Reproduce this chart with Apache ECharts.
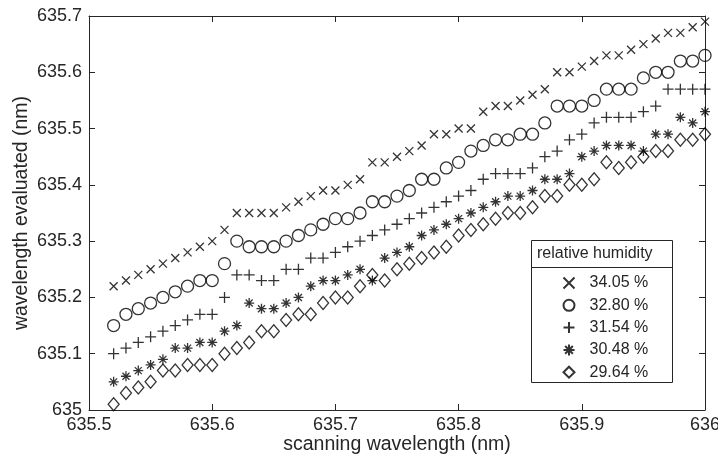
<!DOCTYPE html>
<html>
<head>
<meta charset="utf-8">
<script src="https://cdn.jsdelivr.net/npm/echarts@6/dist/echarts.min.js"></script>
<style>
html, body { margin: 0; padding: 0; background: #fff; }
#main { width: 718px; height: 466px; }
</style>
</head>
<body>
<div id="main"></div>
<script>
// scanning wavelength (nm)
var scanWl = [635.52, 635.53, 635.54, 635.55, 635.56, 635.57, 635.58, 635.59, 635.60, 635.61,
    635.62, 635.63, 635.64, 635.65, 635.66, 635.67, 635.68, 635.69, 635.70, 635.71,
    635.72, 635.73, 635.74, 635.75, 635.76, 635.77, 635.78, 635.79, 635.80, 635.81,
    635.82, 635.83, 635.84, 635.85, 635.86, 635.87, 635.88, 635.89, 635.90, 635.91,
    635.92, 635.93, 635.94, 635.95, 635.96, 635.97, 635.98, 635.99, 636.00];

// wavelength evaluated (nm), one list per relative humidity
var rh3405 = [635.22, 635.23, 635.24, 635.25, 635.26, 635.27, 635.28, 635.29, 635.30, 635.32,
    635.35, 635.35, 635.35, 635.35, 635.36, 635.37, 635.38, 635.39, 635.39, 635.40,
    635.41, 635.44, 635.44, 635.45, 635.46, 635.47, 635.49, 635.49, 635.50, 635.50,
    635.53, 635.54, 635.54, 635.55, 635.56, 635.57, 635.60, 635.60, 635.61, 635.62,
    635.63, 635.63, 635.64, 635.65, 635.66, 635.67, 635.67, 635.68, 635.69];
var rh3280 = [635.15, 635.17, 635.18, 635.19, 635.20, 635.21, 635.22, 635.23, 635.23, 635.26,
    635.30, 635.29, 635.29, 635.29, 635.30, 635.31, 635.32, 635.33, 635.34, 635.34,
    635.35, 635.37, 635.37, 635.38, 635.39, 635.41, 635.41, 635.43, 635.44, 635.46,
    635.47, 635.48, 635.48, 635.49, 635.49, 635.51, 635.54, 635.54, 635.54, 635.55,
    635.57, 635.57, 635.57, 635.59, 635.60, 635.60, 635.62, 635.62, 635.63];
var rh3154 = [635.10, 635.11, 635.12, 635.13, 635.14, 635.15, 635.16, 635.17, 635.17, 635.20,
    635.24, 635.24, 635.23, 635.23, 635.25, 635.25, 635.27, 635.27, 635.28, 635.29,
    635.30, 635.31, 635.32, 635.33, 635.34, 635.35, 635.36, 635.37, 635.38, 635.39,
    635.41, 635.42, 635.42, 635.42, 635.43, 635.45, 635.46, 635.48, 635.49, 635.51,
    635.52, 635.52, 635.52, 635.53, 635.54, 635.57, 635.57, 635.57, 635.57];
var rh3048 = [635.05, 635.06, 635.07, 635.08, 635.09, 635.11, 635.11, 635.12, 635.12, 635.14,
    635.15, 635.19, 635.18, 635.18, 635.19, 635.20, 635.22, 635.23, 635.23, 635.24,
    635.25, 635.23, 635.27, 635.28, 635.29, 635.31, 635.32, 635.33, 635.34, 635.35,
    635.36, 635.37, 635.38, 635.38, 635.39, 635.41, 635.41, 635.42, 635.45, 635.46,
    635.47, 635.47, 635.47, 635.46, 635.49, 635.49, 635.52, 635.51, 635.53];
var rh2964 = [635.01, 635.03, 635.04, 635.05, 635.07, 635.07, 635.08, 635.08, 635.08, 635.10,
    635.11, 635.12, 635.14, 635.14, 635.16, 635.17, 635.17, 635.19, 635.20, 635.20,
    635.22, 635.24, 635.23, 635.25, 635.26, 635.27, 635.28, 635.29, 635.31, 635.32,
    635.33, 635.34, 635.35, 635.35, 635.36, 635.38, 635.38, 635.40, 635.40, 635.41,
    635.44, 635.43, 635.44, 635.45, 635.46, 635.46, 635.48, 635.48, 635.49];

var seriesNames = ['34.05 %', '32.80 %', '31.54 %', '30.48 %', '29.64 %'];
var seriesValues = [rh3405, rh3280, rh3154, rh3048, rh2964];

var inkColor = '#262626';
var font = '"Liberation Sans", Arial, sans-serif';

// matlab style markers
var markers = [
    { symbol: 'path://M0,0L10,10M10,0L0,10', size: 8 },
    { symbol: 'circle', size: 12 },
    { symbol: 'path://M5,0L5,10M0,5L10,5', size: 11 },
    { symbol: 'path://M5,0L5,10M0,5L10,5M1.5,1.5L8.5,8.5M8.5,1.5L1.5,8.5', size: 10 },
    { symbol: 'path://M5,0L10,5L5,10L0,5Z', size: [11, 13] }
];

var myChart = echarts.init(document.getElementById('main'));

const series = seriesValues.map(function (vals, k) {
    return {
        name: seriesNames[k],
        type: 'scatter',
        symbol: markers[k].symbol,
        symbolSize: markers[k].size,
        symbolKeepAspect: true,
        itemStyle: {
            color: 'rgba(0,0,0,0)',
            borderColor: '#000',
            borderWidth: 1.3
        },
        emphasis: { disabled: true },
        data: scanWl.map(function (x, i) { return [x, vals[i]]; })
    };
});

const option = {
    animation: false,
    textStyle: { fontFamily: font, color: inkColor },
    grid: { left: 89, right: 13, top: 16, bottom: 56, containLabel: false, outerBoundsMode: 'none' },
    xAxis: [{
        type: 'value',
        min: 635.5,
        max: 636,
        interval: 0.1,
        name: 'scanning wavelength (nm)',
        nameLocation: 'middle',
        nameMoveOverlap: false,
        nameGap: 25,
        nameTextStyle: { fontSize: 19.5, color: inkColor, fontFamily: font },
        axisLine: { lineStyle: { color: inkColor, width: 1 } },
        axisTick: { inside: true, length: 6, lineStyle: { color: inkColor } },
        axisLabel: { fontSize: 18, color: inkColor, margin: 6, fontFamily: font },
        splitLine: { show: false }
    }, {
        type: 'value',
        position: 'top',
        min: 635.5,
        max: 636,
        interval: 0.1,
        axisLine: { show: true, lineStyle: { color: inkColor, width: 1 } },
        axisTick: { show: true, inside: true, length: 6, lineStyle: { color: inkColor } },
        axisLabel: { show: false },
        splitLine: { show: false }
    }],
    yAxis: [{
        type: 'value',
        min: 635,
        max: 635.7,
        interval: 0.1,
        name: 'wavelength evaluated (nm)',
        nameLocation: 'middle',
        nameMoveOverlap: false,
        nameGap: 57,
        nameTextStyle: { fontSize: 19.5, color: inkColor, fontFamily: font },
        axisLine: { show: true, lineStyle: { color: inkColor, width: 1 } },
        axisTick: { show: true, inside: true, length: 6, lineStyle: { color: inkColor } },
        axisLabel: { fontSize: 18, color: inkColor, margin: 7, fontFamily: font },
        splitLine: { show: false }
    }, {
        type: 'value',
        position: 'right',
        min: 635,
        max: 635.7,
        interval: 0.1,
        axisLine: { show: true, lineStyle: { color: inkColor, width: 1 } },
        axisTick: { show: true, inside: true, length: 6, lineStyle: { color: inkColor } },
        axisLabel: { show: false },
        splitLine: { show: false }
    }],
    legend: {
        orient: 'vertical',
        left: 557.5,
        top: 270,
        itemWidth: 31,
        itemHeight: 11,
        itemGap: 6.3,
        selectedMode: false,
        textStyle: { fontSize: 16, color: inkColor, fontFamily: font, lineHeight: 16 },
        data: seriesNames
    },
    graphic: [{
        type: 'rect',
        z: -1,
        shape: { x: 531.5, y: 240.5, width: 141, height: 142 },
        style: { fill: '#fff', stroke: inkColor, lineWidth: 1 }
    }, {
        type: 'line',
        shape: { x1: 531.5, y1: 267.5, x2: 672.5, y2: 267.5 },
        style: { stroke: inkColor, lineWidth: 1 }
    }, {
        type: 'text',
        left: 537,
        top: 246,
        style: { text: 'relative humidity', fontSize: 16, fill: inkColor, fontFamily: font }
    }],
    series: series
};

myChart.setOption(option);
</script>
</body>
</html>
